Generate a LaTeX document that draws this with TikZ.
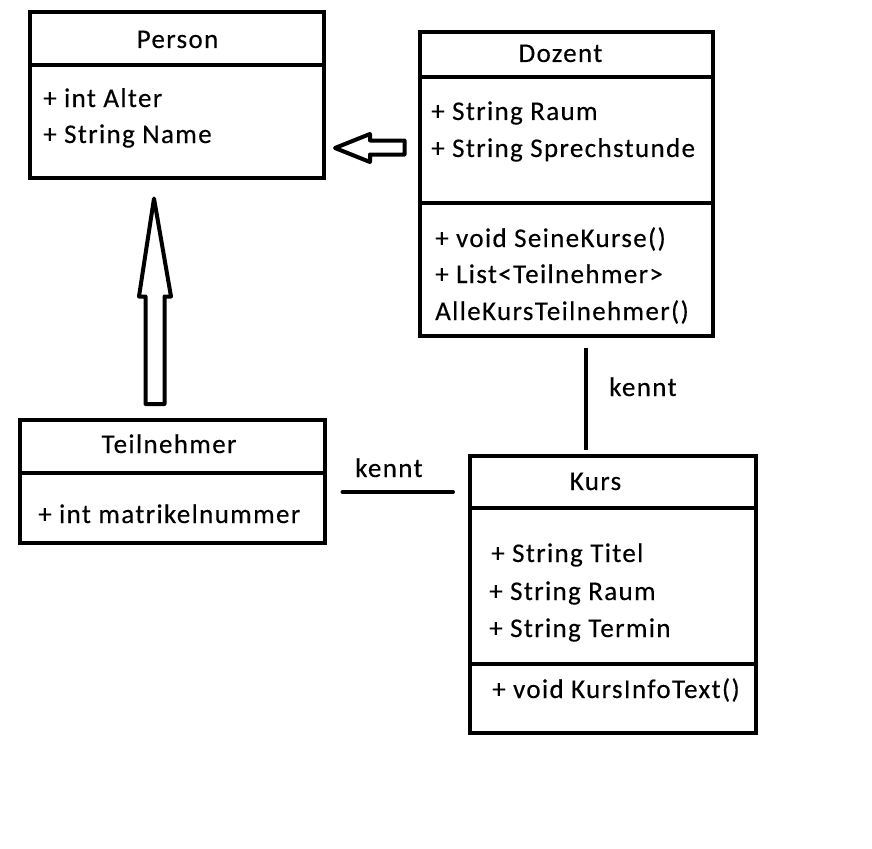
\documentclass[tikz,border=0pt]{standalone}
\usepackage{fontspec}
\setmainfont{Carlito}[LetterSpace=5,FakeBold=0.3]
\usetikzlibrary{calc}
\begin{document}
\begin{tikzpicture}[x=1pt,y=-1pt,
  every node/.style={font=\fontsize{27}{30}\selectfont},
  box/.style={draw, line width=4pt, inner sep=0pt, outer sep=0pt},
  rule/.style={line width=4pt},
  lbl/.style={anchor=base west, inner sep=0pt},
  ttl/.style={anchor=base, inner sep=0pt},
  assoc/.style={line width=4pt, line cap=round},
  gen/.style={line width=4pt, line join=round, fill=white}]
\useasboundingbox (0,0) rectangle (872,848);
\fill[white] (0,0) rectangle (872,848);
% Person
\node[box, minimum width=294pt, minimum height=165pt] (person) at (177,95) {};
\draw[rule] (person.west |- 0,65.5) -- (person.east |- 0,65.5);
\node[ttl] (personT) at (177.5,48) {Person};
\node[lbl] (personA1) at (43,107) {+ int Alter};
\node[lbl] (personA2) at (43,143) {+ String Name};
% Dozent
\node[box, minimum width=293pt, minimum height=303pt] (dozent) at (566,184) {};
\draw[rule] (dozent.west |- 0,77.5) -- (dozent.east |- 0,77.5);
\draw[rule] (dozent.west |- 0,202.5) -- (dozent.east |- 0,202.5);
\node[ttl] (dozentT) at (560.5,62) {Dozent};
\node[lbl] (dozentA1) at (431,120) {+ String Raum};
\node[lbl] (dozentA2) at (431,157) {+ String Sprechstunde};
\node[lbl] (dozentM1) at (435,247) {+ void SeineKurse()};
\node[lbl] (dozentM2) at (435,283) {+ List<Teilnehmer>};
\node[lbl] (dozentM3) at (435,320) {AlleKursTeilnehmer()};
% Teilnehmer
\node[box, minimum width=305pt, minimum height=123pt] (teil) at (172,481) {};
\draw[rule] (teil.west |- 0,472.5) -- (teil.east |- 0,472.5);
\node[ttl] (teilT) at (169,453) {Teilnehmer};
\node[lbl] (teilA1) at (38,523) {+ int matrikelnummer};
% Kurs
\node[box, minimum width=286pt, minimum height=277pt] (kurs) at (612.5,594) {};
\draw[rule] (kurs.west |- 0,507.5) -- (kurs.east |- 0,507.5);
\draw[rule] (kurs.west |- 0,663.5) -- (kurs.east |- 0,663.5);
\node[ttl] (kursT) at (595.5,490) {Kurs};
\node[lbl] (kursA1) at (491,562) {+ String Titel};
\node[lbl] (kursA2) at (489,600) {+ String Raum};
\node[lbl] (kursA3) at (489,637) {+ String Termin};
\node[lbl] (kursM1) at (492,698) {+ void KursInfoText()};
% associations
\draw[rule] ([yshift=-12pt]dozent.south -| 586,0) -- ([yshift=6pt]kurs.north -| 586,0);
\node[lbl] (kennt1) at (609,396) {kennt};
\draw[assoc] ([xshift=18pt]teil.east |- 0,492) -- ([xshift=-16.5pt]kurs.west |- 0,492);
\node[lbl] (kennt2) at (355,477) {kennt};
% generalizations
\coordinate (htip) at ([xshift=11pt]person.east |- 0,148);
\draw[gen] (htip) -- ++(35,-14) -- ++(0,6.5) -- ++(34.5,0) -- ++(0,14) -- ++(-34.5,0) -- ++(0,7.5) -- cycle;
\coordinate (vtip) at ([yshift=-21pt]person.south -| 154,0);
\draw[gen] (vtip) -- ++(-15,98) -- ++(6.5,0) -- ++(0,107.5) -- ++(19,0) -- ++(0,-107.5) -- ++(6.5,0) -- cycle;
\end{tikzpicture}
\end{document}
